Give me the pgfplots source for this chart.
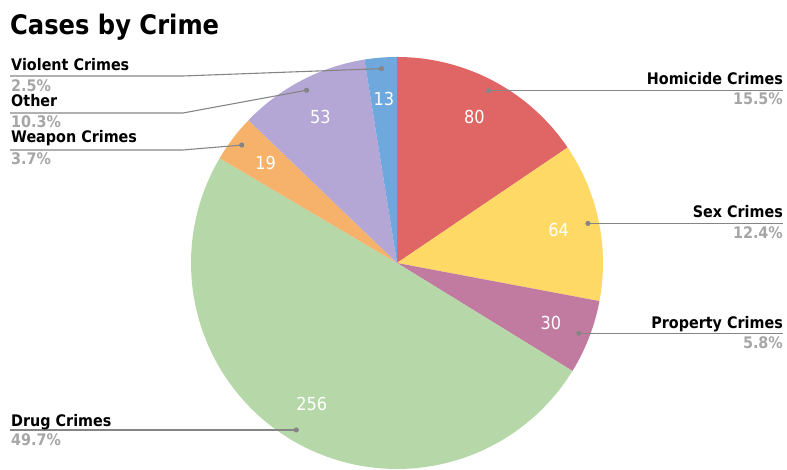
\documentclass[border=0pt]{standalone}
\usepackage{pgfplots}
\pgfplotsset{compat=1.18}
\usepackage{pgfplotstable}
\usepackage{fontspec}
\setmainfont{DejaVu Sans}[FakeStretch=0.9]

\definecolor{slice0}{HTML}{E06666}
\definecolor{slice1}{HTML}{FFD966}
\definecolor{slice2}{HTML}{C27BA0}
\definecolor{slice3}{HTML}{B6D7A8}
\definecolor{slice4}{HTML}{F6B26B}
\definecolor{slice5}{HTML}{B4A7D6}
\definecolor{slice6}{HTML}{6FA8DC}
\definecolor{leader}{HTML}{858585}
\definecolor{pct}{HTML}{A6A6A6}

\pgfplotstableread{
label value
Homicide 80
Sex 64
Property 30
Drug 256
Weapon 19
Other 53
Violent 13
}\crimes

\gdef\crimetotal{0}
\foreach \i in {0,...,6}{%
  \pgfplotstablegetelem{\i}{value}\of\crimes
  \pgfmathsetmacro\mytmp{\crimetotal+\pgfplotsretval}%
  \xdef\crimetotal{\mytmp}%
}
\gdef\cumang{90}
\foreach \i in {0,...,6}{%
  \pgfplotstablegetelem{\i}{value}\of\crimes
  \expandafter\xdef\csname val\i\endcsname{\pgfplotsretval}%
  \pgfmathsetmacro\myEnd{\cumang-\pgfplotsretval/\crimetotal*360}%
  \pgfmathsetmacro\myMid{(\cumang+\myEnd)/2}%
  \expandafter\xdef\csname angS\i\endcsname{\cumang}%
  \expandafter\xdef\csname angE\i\endcsname{\myEnd}%
  \pgfmathsetmacro\mydx{397+195*cos(\myMid)}%
  \pgfmathsetmacro\mydy{207+195*sin(\myMid)}%
  \expandafter\xdef\csname dotX\i\endcsname{\mydx}%
  \expandafter\xdef\csname dotY\i\endcsname{\mydy}%
  \pgfmathsetmacro\mylx{397+165*cos(\myMid)}%
  \pgfmathsetmacro\myly{207+165*sin(\myMid)}%
  \expandafter\xdef\csname labX\i\endcsname{\mylx}%
  \expandafter\xdef\csname labY\i\endcsname{\myly}%
  \xdef\cumang{\myEnd}%
}

\pgfplotsset{leaderline/.style={draw=leader, line width=1.1pt, mark=*, mark indices={1}, mark size=2pt, mark options={fill=leader, draw=leader, solid}}}

\newcommand\leaderR[1]{%
  \edef\doit{\noexpand\addplot[leaderline] coordinates {(\csname dotX#1\endcsname,\csname dotY#1\endcsname) (783,\csname dotY#1\endcsname)};}\doit}
\newcommand\leaderL[2]{%
  \edef\doit{\noexpand\addplot[leaderline] coordinates {(\csname dotX#1\endcsname,\csname dotY#1\endcsname) (183,#2) (10,#2)};}\doit}
\newcommand\leaderD[1]{%
  \edef\doit{\noexpand\addplot[leaderline] coordinates {(\csname dotX#1\endcsname,\csname dotY#1\endcsname) (10,\csname dotY#1\endcsname)};}\doit}

\newcommand\namefont{\bfseries\fontsize{16}{18}\selectfont}

\begin{document}
\begin{tikzpicture}
\begin{axis}[scale only axis, width=787bp, height=470bp,
  xmin=0, xmax=787, ymin=0, ymax=470, hide axis, clip=false]

\path (axis cs:0,0) rectangle (axis cs:787,470);

\pgfplotsinvokeforeach{0,...,6}{%
  \edef\doslice{\noexpand\addplot[fill=slice#1, draw=none, domain=\csname angE#1\endcsname:\csname angS#1\endcsname, samples=90] ({397+206*cos(x)},{207+206*sin(x)}) -- (axis cs:397,207) -- cycle;}%
  \doslice
}

% value labels inside slices
\pgfplotsinvokeforeach{0,...,6}{%
  \node[white, font=\fontsize{18}{20}\selectfont, anchor=center, inner sep=0]
    at (axis cs:\csname labX#1\endcsname,\csname labY#1\endcsname) {\csname val#1\endcsname};
}

% leader lines
\leaderR{0}
\leaderR{1}
\leaderR{2}
\leaderD{3}
\leaderL{4}{320}
\leaderL{5}{357}
\leaderL{6}{394}

% title
\node[anchor=base west, inner sep=0, font=\bfseries\fontsize{27}{30}\selectfont] at (axis cs:10,435) {Cases by Crime};

% right labels
\node[anchor=base east, inner sep=0, font=\namefont] at (axis cs:783,385) {Homicide Crimes};
\node[anchor=base east, inner sep=0, font=\namefont, text=pct] at (axis cs:783,365) {15.5\%};
\node[anchor=base east, inner sep=0, font=\namefont] at (axis cs:783,252) {Sex Crimes};
\node[anchor=base east, inner sep=0, font=\namefont, text=pct] at (axis cs:783,231) {12.4\%};
\node[anchor=base east, inner sep=0, font=\namefont] at (axis cs:783,141) {Property Crimes};
\node[anchor=base east, inner sep=0, font=\namefont, text=pct] at (axis cs:783,121) {5.8\%};

% left labels
\node[anchor=base west, inner sep=0, font=\namefont] at (axis cs:11,399) {Violent Crimes};
\node[anchor=base west, inner sep=0, font=\namefont, text=pct] at (axis cs:11,378) {2.5\%};
\node[anchor=base west, inner sep=0, font=\namefont] at (axis cs:11,363) {Other};
\node[anchor=base west, inner sep=0, font=\namefont, text=pct] at (axis cs:11,342) {10.3\%};
\node[anchor=base west, inner sep=0, font=\namefont] at (axis cs:11,327) {Weapon Crimes};
\node[anchor=base west, inner sep=0, font=\namefont, text=pct] at (axis cs:11,305) {3.7\%};
\node[anchor=base west, inner sep=0, font=\namefont] at (axis cs:11,43) {Drug Crimes};
\node[anchor=base west, inner sep=0, font=\namefont, text=pct] at (axis cs:11,24) {49.7\%};

\end{axis}
\end{tikzpicture}
\end{document}
